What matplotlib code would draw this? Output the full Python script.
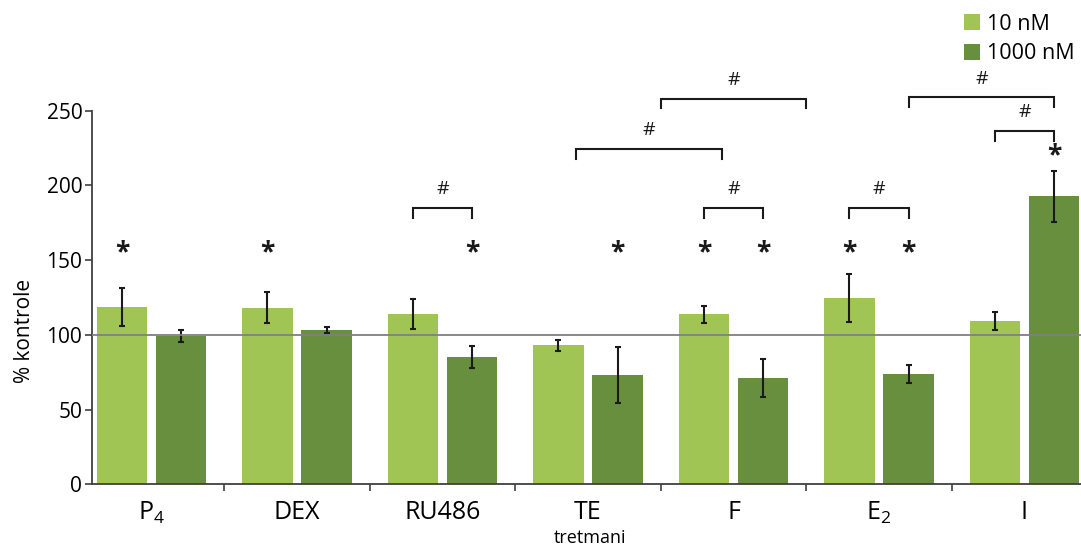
import matplotlib.pyplot as plt
import numpy as np

plt.rcParams['font.family'] = ['Open Sans', 'DejaVu Sans']
plt.rcParams['mathtext.fontset'] = 'custom'
plt.rcParams['mathtext.rm'] = 'Open Sans'
plt.rcParams['mathtext.it'] = 'Open Sans:italic'

# data
categories = [r'P$_\mathregular{4}$', 'DEX', 'RU486', 'TE', 'F',
              r'E$_\mathregular{2}$', 'I']
low = [118.7, 118.2, 113.8, 93.0, 113.8, 124.7, 109.1]      # 10 nM
low_err = [12.5, 10.5, 10.1, 3.8, 5.8, 15.8, 6.0]
high = [99.5, 103.3, 85.2, 73.2, 70.9, 73.6, 192.8]         # 1000 nM
high_err = [4.0, 2.2, 7.6, 19.0, 12.7, 6.0, 17.0]

# significance vs control (*)
star_low = [0, 1, 4, 5]
star_high = [2, 3, 4, 5, 6]

# brackets (#): x start, x end, height (data units)
brackets = [(1.797, 2.203, 185.0),
            (2.917, 3.919, 224.5),
            (3.5, 4.5, 258.0),
            (3.797, 4.203, 185.0),
            (4.797, 5.203, 185.0),
            (5.203, 6.203, 259.0),
            (5.797, 6.203, 236.5)]

c_low = '#A0C555'
c_high = '#678F3D'

fig = plt.figure(figsize=(10.81, 5.48), dpi=100)
ax = fig.add_axes([0.0851, 0.1162, 0.9149, 0.6818])

x = np.arange(len(categories))
w = 0.345
off = 0.203
ekw = dict(ecolor='#1a1a1a', elinewidth=1.5, capsize=2.5, capthick=1.5)
ax.bar(x - off, low, w, yerr=low_err, color=c_low, label='10 nM',
       error_kw=ekw, zorder=2)
ax.bar(x + off, high, w, yerr=high_err, color=c_high, label='1000 nM',
       error_kw=ekw, zorder=2)

ax.axhline(100, color='#808080', lw=1.3, zorder=3)

# stars
for i in star_low:
    ax.text(i - off, 155, '*', ha='center', va='center', fontsize=19,
            fontweight='bold', color='#1a1a1a')
for i in star_high:
    y = 155 if high[i] + high_err[i] < 140 else high[i] + high_err[i] + 10
    ax.text(i + off, y, '*', ha='center', va='center', fontsize=19,
            fontweight='bold', color='#1a1a1a')

# brackets
for x0, x1, y in brackets:
    ax.plot([x0, x0, x1, x1], [y - 6.5, y, y, y - 6.5], color='#1a1a1a',
            lw=1.5, clip_on=False, solid_joinstyle='miter')
    ax.text((x0 + x1) / 2, y + 12.5, '#', ha='center', va='center',
            fontsize=14, color='#1a1a1a')

ax.set_xlim(-0.409, 6.388)
ax.set_ylim(0, 250)
ax.set_yticks([0, 50, 100, 150, 200, 250])
ax.set_xticks(np.arange(len(categories) - 1) + 0.5)
ax.set_xticklabels([])
ax.set_xticks(x, categories, minor=True)
ax.tick_params(axis='x', which='minor', length=0, pad=11, labelsize=18)
ax.tick_params(axis='x', which='major', length=5, width=1.2, color='#404040')
ax.tick_params(axis='y', length=5, width=1.2, color='#404040', pad=2,
               labelsize=15)

for s in ['top', 'right']:
    ax.spines[s].set_visible(False)
for s in ['left', 'bottom']:
    ax.spines[s].set_color('#404040')
    ax.spines[s].set_linewidth(1.3)

fig.text(25 / 1081, 1 - 331 / 548, '% kontrole', rotation=90, ha='center',
         va='center', fontsize=15)
fig.text(590 / 1081, 1 - 538 / 548, 'tretmani', ha='center', va='center',
         fontsize=13)

fig.legend(loc='upper left', bbox_to_anchor=(955 / 1081, 1 - 5 / 548),
           frameon=False, fontsize=15.5, handlelength=0.75, handleheight=0.75,
           handletextpad=0.35, labelspacing=0.4, borderaxespad=0)

fig.savefig('out.png', dpi=100)
